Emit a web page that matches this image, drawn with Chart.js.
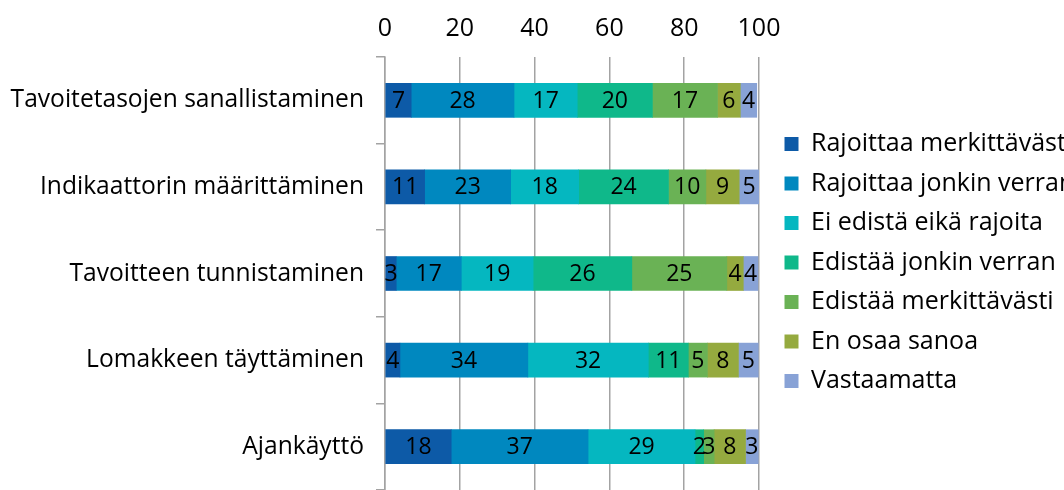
<!DOCTYPE html>
<html>
<head>
<meta charset="utf-8">
<script src="https://cdn.jsdelivr.net/npm/chart.js@4/dist/chart.umd.min.js"></script>
<style>
  html, body { margin: 0; padding: 0; background: #fff; overflow: hidden; }
  #wrap { width: 1064px; height: 490px; position: relative; }
</style>
</head>
<body>
<div id="wrap"><canvas id="grafico"></canvas></div>
<script>
// Categorías (de arriba a abajo)
const categorias = [
  "Tavoitetasojen sanallistaminen",
  "Indikaattorin määrittäminen",
  "Tavoitteen tunnistaminen",
  "Lomakkeen täyttäminen",
  "Ajankäyttö"
];

// Series (%)
const rajoittaaMerkittavasti = [7.0, 10.6, 3.0, 4.0, 17.7];
const rajoittaaJonkin = [27.5, 23.0, 17.4, 34.2, 36.6];
const eiEdistaEikaRajoita = [16.9, 18.2, 19.2, 32.2, 28.6];
const edistaaJonkin = [20.1, 24.0, 26.4, 10.7, 2.3];
const edistaaMerkittavasti = [17.4, 10.0, 25.4, 5.1, 2.8];
const enOsaaSanoa = [6.1, 8.9, 4.4, 8.3, 8.4];
const vastaamatta = [4.4, 5.3, 3.9, 5.3, 3.4];

const tickLabels = [0, 20, 40, 60, 80, 100];

const FUENTE = "'Open Sans', 'DejaVu Sans', sans-serif";

const series = [
  { label: "Rajoittaa merkittävästi", data: rajoittaaMerkittavasti, color: "#0d5aa7" },
  { label: "Rajoittaa jonkin verran", data: rajoittaaJonkin, color: "#0088bf" },
  { label: "Ei edistä eikä rajoita", data: eiEdistaEikaRajoita, color: "#05b7c0" },
  { label: "Edistää jonkin verran", data: edistaaJonkin, color: "#0fb88a" },
  { label: "Edistää merkittävästi", data: edistaaMerkittavasti, color: "#6ab255" },
  { label: "En osaa sanoa", data: enOsaaSanoa, color: "#95aa3f" },
  { label: "Vastaamatta", data: vastaamatta, color: "#88a2d6" }
];

// Plugin para escribir los valores dentro de las barras
const etiquetasBarras = {
  id: "etiquetasBarras",
  afterDatasetsDraw(chart) {
    const ctx = chart.ctx;
    ctx.save();
    ctx.font = "23px " + FUENTE;
    ctx.fillStyle = "#000";
    ctx.textAlign = "center";
    ctx.textBaseline = "middle";
    chart.data.datasets.forEach((ds, i) => {
      const meta = chart.getDatasetMeta(i);
      meta.data.forEach((bar, j) => {
        const centro = (bar.x + bar.base) / 2;
        ctx.fillText(Math.round(ds.data[j]), centro, bar.y + 1);
      });
    });
    ctx.restore();
  }
};

// Ajuste de la leyenda: ancho fijo y posición como en el original
const posLeyenda = {
  id: "posLeyenda",
  afterInit(chart) {
    const leyenda = chart.legend;
    const fitOriginal = leyenda.fit;
    leyenda.fit = function () {
      fitOriginal.call(this);
      this.width = 305;
    };
  },
  afterLayout(chart) {
    const leyenda = chart.legend;
    const alto = leyenda.height;
    leyenda.left = chart.chartArea.right + 11;
    leyenda.top = 117;
    leyenda.bottom = leyenda.top + alto;
  }
};

const ctx = document.getElementById("grafico").getContext("2d");

new Chart(ctx, {
  type: "bar",
  data: {
    labels: categorias,
    datasets: series.map(s => ({
      label: s.label,
      data: s.data,
      backgroundColor: s.color,
      borderWidth: 0,
      barThickness: 34
    }))
  },
  options: {
    indexAxis: "y",
    responsive: true,
    maintainAspectRatio: false,
    animation: false,
    plugins: {
      legend: {
        position: "right",
        fullSize: false,
        align: "start",
        labels: {
          boxWidth: 14,
          boxHeight: 14,
          padding: 14.5,
          color: "#000",
          font: { family: FUENTE, size: 25 }
        }
      },
      tooltip: { enabled: false }
    },
    scales: {
      x: {
        position: "top",
        stacked: true,
        min: 0,
        max: 100,
        afterBuildTicks(scale) {
          scale.ticks = tickLabels.map(v => ({ value: v }));
        },
        afterFit(scale) { scale.height = 57; },
        grid: { color: "#a3a3a3", lineWidth: 1.5, drawTicks: false },
        border: { display: false },
        ticks: {
          padding: 13,
          color: "#000",
          font: { family: FUENTE, size: 25 }
        }
      },
      y: {
        stacked: true,
        afterFit(scale) {
          scale.width = 385;
          scale.paddingTop = 0;
          scale.paddingBottom = 0;
        },
        grid: {
          offset: true,
          drawOnChartArea: false,
          drawTicks: true,
          tickLength: 9,
          color: "#a3a3a3",
          lineWidth: 1.5
        },
        border: { display: true, color: "#a3a3a3", width: 1.5 },
        ticks: {
          padding: 12,
          color: "#000",
          font: { family: FUENTE, size: 24.6 }
        }
      }
    }
  },
  plugins: [etiquetasBarras, posLeyenda]
});
</script>
</body>
</html>
